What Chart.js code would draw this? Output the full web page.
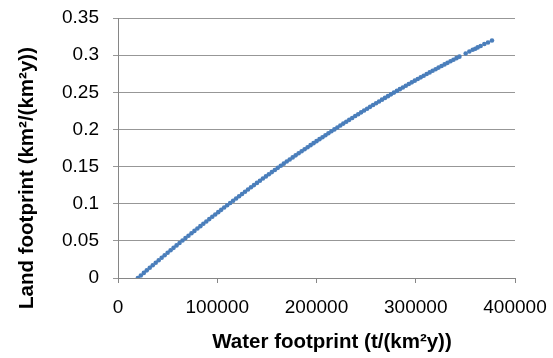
<!DOCTYPE html>
<html>
<head>
<meta charset="utf-8">
<script src="https://cdn.jsdelivr.net/npm/chart.js@4"></script>
<style>
  body { margin: 0; background: #fff; }
  #wrap { width: 553px; height: 358px; }
</style>
</head>
<body>
<div id="wrap"><canvas id="footprintChart" width="553" height="358"></canvas></div>
<script>
// water footprint (t/(km2 y)) for each sample
const waterFootprint = [
    20000, 23000, 26000, 29000, 32000, 35000, 38000, 41000, 44000, 47000,
    50000, 53000, 56000, 59000, 62000, 65000, 68000, 71000, 74000, 77000,
    80000, 83000, 86000, 89000, 92000, 95000, 98000, 101000, 104000, 107000,
    110000, 113000, 116000, 119000, 122000, 125000, 128000, 131000, 134000, 137000,
    140000, 143000, 146000, 149000, 152000, 155000, 158000, 161000, 164000, 167000,
    170000, 173000, 176000, 179000, 182000, 185000, 188000, 191000, 194000, 197000,
    200000, 203000, 206000, 209000, 212000, 215000, 218000, 221000, 224000, 227000,
    230000, 233000, 236000, 239000, 242000, 245000, 248000, 251000, 254000, 257000,
    260000, 263000, 266000, 269000, 272000, 275000, 278000, 281000, 284000, 287000,
    290000, 293000, 296000, 299000, 302000, 305000, 308000, 311000, 314000, 317000,
    320000, 323000, 326000, 329000, 332000, 335000, 338000, 341000, 344000,
    350300, 354000, 357400, 360000, 362400, 365400, 369100, 372800, 376800
];

// land footprint (km2/(km2 y)) for the same samples
const landFootprint = [
    0, 0.00345, 0.00689, 0.01032, 0.01373, 0.01713, 0.02052, 0.0239, 0.02726, 0.03061,
    0.03394, 0.03726, 0.04057, 0.04387, 0.04716, 0.05043, 0.05369, 0.05693, 0.06016, 0.06338,
    0.06659, 0.06978, 0.07296, 0.07613, 0.07928, 0.08243, 0.08555, 0.08867, 0.09177, 0.09486,
    0.09794, 0.101, 0.10405, 0.10709, 0.11012, 0.11313, 0.11613, 0.11911, 0.12209, 0.12505,
    0.12799, 0.13093, 0.13385, 0.13676, 0.13965, 0.14253, 0.1454, 0.14826, 0.1511, 0.15393,
    0.15675, 0.15956, 0.16235, 0.16512, 0.16789, 0.17064, 0.17338, 0.17611, 0.17882, 0.18152,
    0.18421, 0.18689, 0.18955, 0.1922, 0.19483, 0.19746, 0.20007, 0.20266, 0.20525, 0.20782,
    0.21038, 0.21292, 0.21546, 0.21798, 0.22048, 0.22298, 0.22546, 0.22792, 0.23038, 0.23282,
    0.23525, 0.23766, 0.24007, 0.24246, 0.24483, 0.2472, 0.24955, 0.25189, 0.25421, 0.25652,
    0.25882, 0.26111, 0.26338, 0.26564, 0.26789, 0.27012, 0.27234, 0.27455, 0.27675, 0.27893,
    0.2811, 0.28326, 0.2854, 0.28753, 0.28965, 0.29175, 0.29385, 0.29592, 0.29799,
    0.3023, 0.305, 0.3073, 0.3086, 0.3104, 0.3123, 0.315, 0.3171, 0.3198
];

const xTitle = 'Water footprint (t/(km\u00b2y))';
const yTitle = 'Land footprint (km\u00b2/(km\u00b2y))';

const FONT = "'Liberation Sans', Arial, sans-serif";
const axisGray = '#868686';

const points = waterFootprint.map((x, i) => ({ x: x, y: landFootprint[i] }));

// axis titles drawn by hand so they can sit off the plot centre
const axisTitles = {
    id: 'axisTitles',
    afterDraw(chart) {
        const ctx = chart.ctx;
        ctx.save();
        ctx.fillStyle = '#000';
        ctx.font = 'bold 20.5px ' + FONT;
        ctx.textAlign = 'center';
        ctx.textBaseline = 'alphabetic';
        ctx.fillText(xTitle, 332, 348);
        ctx.translate(33, 178);
        ctx.rotate(-Math.PI / 2);
        ctx.fillText(yTitle, 0, 0);
        ctx.restore();
    }
};

const ctx = document.getElementById('footprintChart').getContext('2d');
const footprintChart = new Chart(ctx, {
    type: 'scatter',
    data: {
        datasets: [{
            data: points,
            backgroundColor: '#4a7ebb',
            borderColor: '#4a7ebb',
            borderWidth: 0,
            pointRadius: 2.3,
            pointHoverRadius: 2.3
        }]
    },
    options: {
        responsive: false,
        animation: false,
        layout: { padding: { top: 18, right: 38, bottom: 0, left: 0 } },
        plugins: {
            legend: { display: false },
            tooltip: { enabled: false }
        },
        scales: {
            x: {
                type: 'linear',
                min: 0,
                max: 400000,
                afterFit: (scale) => {
                    scale.height = 80;
                    scale.paddingLeft = 0;
                    scale.paddingRight = 0;
                },
                ticks: {
                    stepSize: 100000,
                    color: '#000',
                    font: { family: FONT, size: 19 },
                    padding: 13,
                    maxRotation: 0,
                    callback: (v) => String(v)
                },
                grid: {
                    drawOnChartArea: false,
                    drawTicks: true,
                    tickLength: 5,
                    color: axisGray
                },
                border: { color: axisGray, width: 1 }
            },
            y: {
                min: 0,
                max: 0.35,
                afterFit: (scale) => {
                    scale.width = 118;
                    scale.paddingTop = 0;
                    scale.paddingBottom = 0;
                },
                ticks: {
                    stepSize: 0.05,
                    color: '#000',
                    font: { family: FONT, size: 19 },
                    padding: 14,
                    callback: (v) => String(+v.toFixed(2))
                },
                grid: {
                    color: '#979797',
                    tickLength: 5
                },
                border: { color: axisGray, width: 1 }
            }
        }
    },
    plugins: [axisTitles]
});
</script>
</body>
</html>
